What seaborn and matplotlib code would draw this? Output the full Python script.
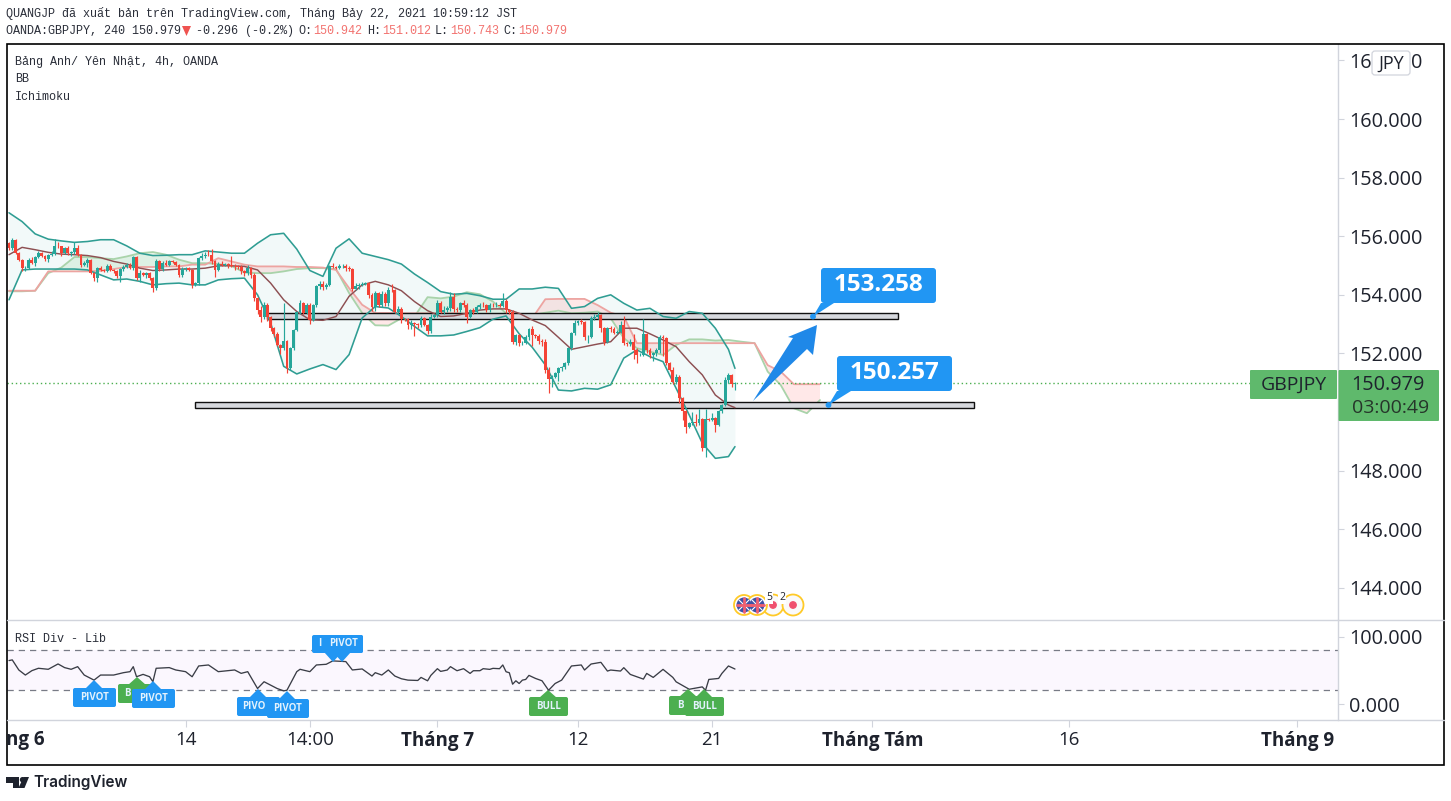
"""GBPJPY 4h TradingView snapshot redrawn with seaborn / matplotlib."""
import matplotlib
matplotlib.use("Agg")
import matplotlib.pyplot as plt
from matplotlib.patches import FancyBboxPatch, Polygon, Circle, Rectangle
import numpy as np
import pandas as pd
import seaborn as sns

# candle closes, one per 4h bar (opens are the previous close)
closes = [
    155.59, 155.88, 155.42, 155.20, 154.91, 154.93, 155.20, 155.10, 155.29, 155.42,
    155.31, 155.22, 155.37, 155.40, 155.67, 155.65, 155.42, 155.59, 155.42, 155.45,
    155.59, 155.37, 155.03, 155.08, 155.20, 154.76, 154.57, 154.91, 154.85, 154.83,
    154.99, 154.85, 154.80, 154.65, 154.88, 154.95, 155.03, 154.91, 155.29, 154.57,
    154.74, 154.68, 154.74, 154.57, 154.23, 155.14, 154.88, 155.10, 155.03, 155.14,
    155.12, 155.03, 154.68, 154.88, 154.91, 154.85, 154.34, 154.40, 155.25, 155.31,
    155.37, 155.35, 155.14, 154.85, 155.05, 155.03, 155.05, 155.03, 154.99, 154.97,
    154.95, 154.80, 154.74, 154.91, 154.68, 153.89, 153.49, 153.26, 153.66, 153.26,
    152.87, 152.67, 152.30, 152.18, 152.41, 151.50, 152.18, 152.81, 153.40, 153.72,
    153.38, 153.66, 153.15, 153.66, 154.29, 154.38, 154.26, 154.34, 154.97, 154.95,
    154.93, 154.97, 154.99, 154.91, 154.88, 154.20, 154.31, 154.34, 154.38, 154.40,
    154.00, 153.60, 154.06, 153.66, 154.04, 153.72, 154.17, 154.15, 153.43, 153.51,
    153.17, 153.16, 152.97, 153.03, 153.00, 152.97, 153.20, 152.97, 152.78, 153.26,
    153.31, 153.71, 153.43, 153.48, 153.54, 153.94, 153.51, 153.48, 153.71, 153.66,
    153.26, 153.48, 153.43, 153.60, 153.66, 153.64, 153.48, 153.66, 153.64, 153.66,
    153.62, 153.80, 153.48, 153.43, 152.40, 152.63, 152.35, 152.37, 152.57, 152.82,
    152.63, 152.61, 152.43, 152.40, 151.44, 151.12, 151.21, 151.32, 151.49, 151.53,
    151.66, 152.18, 152.69, 153.03, 153.09, 153.07, 152.55, 152.57, 153.20, 153.23,
    153.31, 152.86, 152.40, 152.86, 152.84, 152.71, 152.74, 152.97, 152.35, 152.32,
    152.40, 152.12, 151.95, 151.96, 152.66, 152.12, 151.95, 152.00, 152.12, 152.57,
    152.52, 151.66, 151.44, 151.04, 151.21, 150.47, 150.02, 149.50, 149.62, 149.65,
    149.62, 149.75, 148.76, 149.75, 149.73, 149.78, 149.56, 150.02, 150.24, 151.10,
    151.27, 150.94, 150.98,
]
first_open = 155.76
wick_up = [
    .04, .05, .03, .03, .03, .06, .04, .08, .03, .06,
    .04, .04, .04, .08, .25, .12, .03, .05, .06, .05,
    .22, .12, .04, .06, .04, .03, .03, .05, .08, .03,
    .05, .06, .04, .05, .04, .06, .05, .05, .05, .03,
    .10, .05, .04, .03, .03, .08, .06, .05, .08, .05,
    .04, .04, .03, .06, .05, .04, .03, .05, .05, .12,
    .08, .15, .20, .05, .06, .12, .05, .05, .30, .07,
    .05, .06, .04, .10, .05, .05, .03, .12, .10, .05,
    .03, .04, .05, .03, 1.30, .05, .05, .04, .05, .10,
    .04, .05, .05, .04, .05, .10, .08, .07, .05, .12,
    .05, .08, .05, .05, .08, .05, .10, .07, .05, .04,
    .05, .05, .08, .05, .08, .05, .10, .20, .05, .12,
    .08, .05, .05, .10, .05, .05, .08, .06, .05, .10,
    .05, .12, .08, .15, .08, .15, .12, .06, .05, .10,
    .05, .05, .08, .05, .05, .10, .05, .05, .05, .08,
    .05, .25, .05, .05, .05, .05, .05, .04, .05, .05,
    .10, .05, .05, .05, .10, .08, .05, .05, .06, .05,
    .05, .05, .05, .10, .05, .08, .05, .05, .08, .10,
    .10, .05, .05, .05, .06, .06, .06, .12, .30, .05,
    .08, .25, .06, .05, .50, .05, .05, .05, .05, .05,
    .05, .05, .05, .08, .10, .05, .05, .05, .05, .35,
    .30, .35, .05, .35, .05, .20, .05, .05, .05, .08,
    .06, .02, .03,
]
wick_dn = [
    .05, .05, .03, .04, .08, .08, .05, .05, .10, .04,
    .03, .05, .10, .04, .05, .05, .08, .03, .05, .10,
    .05, .06, .08, .05, .12, .05, .10, .12, .04, .05,
    .04, .05, .05, .08, .22, .07, .05, .04, .06, .06,
    .12, .05, .10, .07, .12, .05, .06, .05, .04, .05,
    .04, .06, .08, .07, .05, .05, .12, .05, .05, .06,
    .05, .04, .10, .25, .05, .05, .05, .10, .05, .12,
    .08, .08, .10, .06, .10, .10, .15, .20, .10, .15,
    .12, .12, .05, .20, .05, .17, .08, .05, .05, .05,
    .05, .05, .15, .05, .08, .08, .08, .05, .05, .05,
    .05, .05, .05, .08, .05, .08, .04, .10, .05, .05,
    .10, .15, .15, .06, .06, .10, .10, .05, .05, .10,
    .12, .05, .15, .15, .40, .10, .08, .05, .10, .08,
    .05, .05, .05, .08, .05, .10, .08, .06, .05, .06,
    .22, .05, .08, .05, .08, .05, .08, .05, .05, .05,
    .05, .05, .10, .10, .08, .12, .08, .05, .05, .12,
    .38, .10, .10, .15, .12, .48, .25, .05, .25, .10,
    .05, .05, .05, .06, .05, .05, .10, .18, .06, .05,
    .05, .12, .10, .05, .10, .05, .05, .05, .05, .06,
    .05, .30, .28, .05, .05, .10, .10, .20, .10, .10,
    .60, .05, .05, .08, .08, .15, .30, .20, .05, .05,
    .10, .05, .10, .30, .05, .05, .25, .05, .05, .05,
    .10, .10, .20,
]

# Bollinger bands, read every 4 bars
bb_bars = list(range(0, 221, 4)) + [222]
bb_upper = [
    156.80, 156.50, 156.08, 155.90, 155.84, 155.79, 155.82, 155.88, 155.88, 155.67,
    155.42, 155.34, 155.35, 155.37, 155.37, 155.50, 155.46, 155.42, 155.42, 155.76,
    156.05, 156.10, 155.56, 154.83, 154.63, 155.59, 155.91, 155.42, 155.31, 155.20,
    155.05, 154.71, 154.42, 154.11, 154.02, 154.05, 153.97, 153.85, 153.85, 154.20,
    154.20, 154.26, 154.22, 153.54, 153.60, 153.88, 154.00, 153.71, 153.48, 153.54,
    153.26, 153.20, 153.43, 153.37, 152.86, 152.14, 151.49,
]
bb_lower = [
    153.83, 154.85, 154.88, 154.88, 154.88, 154.88, 154.85, 154.68, 154.51, 154.54,
    154.46, 154.34, 154.38, 154.40, 154.34, 154.34, 154.51, 154.55, 154.57, 154.00,
    153.04, 151.56, 151.30, 151.47, 151.62, 151.45, 151.96, 153.21, 153.60, 153.55,
    153.26, 152.92, 152.60, 152.60, 152.63, 152.75, 152.88, 153.17, 153.28, 152.67,
    152.21, 151.61, 150.75, 150.72, 150.81, 150.78, 150.93, 151.84, 152.12, 151.89,
    151.72, 150.81, 149.90, 148.94, 148.42, 148.48, 148.82,
]
bb_basis = [
    155.37, 155.62, 155.54, 155.45, 155.39, 155.37, 155.34, 155.27, 155.14, 155.05,
    154.91, 154.83, 154.85, 154.88, 154.88, 154.91, 154.99, 154.99, 154.97, 154.85,
    154.40, 153.83, 153.43, 153.15, 153.13, 153.26, 153.95, 154.34, 154.46, 154.34,
    154.14, 153.77, 153.46, 153.26, 153.28, 153.37, 153.48, 153.52, 153.52, 153.37,
    153.14, 152.95, 152.55, 152.14, 152.23, 152.32, 152.40, 152.86, 152.86, 152.67,
    152.46, 152.23, 151.72, 151.27, 150.58, 150.24, 150.15,
]

# Ichimoku cloud, runs past the last candle
cloud_bars = list(range(0, 245, 4)) + [248]
span_a = [
    154.12, 154.12, 154.14, 154.74, 154.93, 155.29, 155.29, 155.25, 155.22, 155.31,
    155.42, 155.46, 155.37, 155.20, 155.08, 155.08, 155.05, 154.99, 154.76, 154.74,
    154.74, 154.80, 154.88, 154.91, 154.91, 154.88, 154.06, 153.38, 152.96, 152.95,
    153.20, 153.26, 153.92, 153.88, 153.94, 154.09, 154.02, 153.77, 153.37, 153.31,
    153.31, 153.39, 153.46, 153.37, 153.39, 153.43, 153.20, 152.52, 152.18, 152.06,
    151.95, 152.29, 152.48, 152.48, 152.44, 152.46, 152.40, 152.35, 151.38, 150.92,
    150.13, 149.96, 150.41,
]
span_b = [
    154.14, 154.14, 154.14, 154.80, 154.80, 154.80, 154.80, 154.82, 154.88, 154.95,
    154.95, 154.95, 154.97, 154.97, 155.03, 155.03, 155.25, 155.14, 155.03, 154.97,
    154.97, 154.97, 154.95, 154.95, 154.93, 154.85, 154.23, 153.66, 153.38, 153.38,
    153.37, 153.37, 153.37, 153.37, 153.37, 153.35, 153.31, 153.23, 153.20, 153.20,
    153.20, 153.85, 153.86, 153.86, 153.86, 153.65, 153.39, 153.26, 152.35, 152.35,
    152.35, 152.35, 152.35, 152.35, 152.35, 152.35, 152.35, 152.35, 151.60, 151.38,
    150.95, 150.95, 150.95,
]

# RSI pane
rsi_bars = [
    0, 1, 3, 5, 7, 9, 12, 15, 17, 19,
    21, 23, 26, 28, 32, 35, 37, 38, 39, 41,
    43, 44, 45, 49, 51, 54, 56, 58, 61, 64,
    69, 71, 73, 76, 78, 82, 84, 85, 88, 89,
    92, 94, 97, 99, 103, 105, 108, 111, 112, 114,
    116, 118, 120, 122, 125, 126, 128, 129, 131, 132,
    134, 135, 137, 139, 141, 142, 144, 145, 147, 148,
    150, 151, 152, 153, 154, 155, 156, 157, 158, 159,
    161, 163, 165, 167, 169, 172, 175, 176, 178, 181,
    183, 184, 187, 188, 190, 194, 195, 197, 200, 203,
    204, 208, 212, 213, 214, 217, 218, 220, 222,
]
rsi_values = [
    64.7, 65.7, 50.8, 43.3, 49.8, 53.3, 51.8, 59.7, 54.3, 51.8,
    55.7, 43.3, 35.8, 43.3, 43.3, 46.8, 48.3, 55.7, 40.8, 44.3,
    40.8, 33.4, 53.3, 54.3, 50.8, 48.3, 40.8, 56.7, 58.2, 48.3,
    50.8, 45.8, 48.3, 23.4, 33.4, 23.4, 19.9, 20.9, 48.3, 51.8,
    48.3, 58.2, 59.2, 64.2, 63.2, 50.8, 52.3, 41.8, 46.8, 43.3,
    50.8, 41.8, 37.8, 35.8, 35.3, 39.8, 34.8, 42.8, 52.7, 48.7,
    50.7, 55.7, 49.7, 52.7, 45.7, 49.7, 49.7, 52.7, 51.7, 53.2,
    52.7, 58.2, 48.2, 46.7, 29.8, 34.8, 30.8, 35.8, 36.8, 42.8,
    38.3, 34.8, 20.8, 30.8, 35.8, 56.7, 58.2, 50.7, 59.6, 62.1,
    49.2, 50.7, 49.2, 54.2, 44.2, 37.3, 45.7, 39.8, 51.7, 39.8,
    33.3, 22.3, 25.8, 20.8, 36.8, 38.3, 45.7, 56.7, 52.2,
]

price_ticks = [144, 146, 148, 150, 152, 154, 156, 158, 160, 162]
price_tick_labels = ["144.000", "146.000", "148.000", "", "152.000", "154.000",
                     "156.000", "158.000", "160.000", "162.000"]
rsi_ticks = [0, 100]
rsi_tick_labels = ["0.000", "100.000"]
time_ticks = [54, 92, 131, 174, 215, 264, 324, 394]
time_labels = ["14", "14:00", "Tháng 7", "12", "21", "Tháng Tám", "16", "Tháng 9"]
last_price = 150.979
zone_high = (153.16, 153.37, 79, 272)
zone_low = (150.15, 150.35, 57, 295)

W, H = 1451, 801
TEAL, RED = "#26a69a", "#f44336"
BLUE, GREEN = "#2196f3", "#4caf50"
INK = "#1e222d"
AXIS_GREY = "#d1d4dc"
MONO = "Liberation Mono"
SANS = "Open Sans"

sns.set_theme(style="white")
plt.rcParams["font.family"] = [SANS, "DejaVu Sans"]

fig = plt.figure(figsize=(W / 100, H / 100), dpi=100, facecolor="white")


def pane(left, top, right, bottom):
    return fig.add_axes([left / W, 1 - bottom / H, (right - left) / W, (bottom - top) / H])


ax = pane(7, 44, 1338, 619.5)
ax_rsi = pane(7, 619.5, 1338, 719.5)
for a in (ax, ax_rsi):
    a.set_xlim(-0.61, 406.4)
    a.set_facecolor("white")
    a.yaxis.tick_right()
    for side in ("top", "left", "bottom"):
        a.spines[side].set_visible(False)
    a.spines["right"].set_color(AXIS_GREY)
    a.spines["right"].set_linewidth(1.0)
ax.set_ylim(142.92, 162.56)
ax_rsi.set_ylim(-22.4, 125.4)

# candles
bars = np.arange(len(closes))
candles = pd.DataFrame({"bar": bars, "close": closes})
candles["open"] = candles["close"].shift(1).fillna(first_open)
candles["top"] = candles[["open", "close"]].max(axis=1)
candles["bot"] = candles[["open", "close"]].min(axis=1)
candles["high"] = candles["top"] + np.array(wick_up)
candles["low"] = candles["bot"] - np.array(wick_dn)
colors = np.where(candles["close"] >= candles["open"], TEAL, RED)

# bollinger
bb = pd.DataFrame({"bar": bb_bars, "upper": bb_upper, "lower": bb_lower, "basis": bb_basis})
ax.fill_between(bb["bar"], bb["lower"], bb["upper"], color=TEAL, alpha=0.06, lw=0, zorder=1)
sns.lineplot(data=bb, x="bar", y="upper", ax=ax, color="#2f9d93", lw=1.15, zorder=2.2, errorbar=None)
sns.lineplot(data=bb, x="bar", y="lower", ax=ax, color="#2f9d93", lw=1.15, zorder=2.2, errorbar=None)
sns.lineplot(data=bb, x="bar", y="basis", ax=ax, color="#8d4f52", lw=1.05, zorder=2.6, errorbar=None)

# ichimoku cloud
cloud = pd.DataFrame({"bar": cloud_bars, "a": span_a, "b": span_b})
a_arr, b_arr = cloud["a"].to_numpy(), cloud["b"].to_numpy()
ax.fill_between(cloud["bar"], a_arr, b_arr, where=a_arr >= b_arr, interpolate=True,
                color=GREEN, alpha=0.12, lw=0, zorder=1.1)
ax.fill_between(cloud["bar"], a_arr, b_arr, where=a_arr <= b_arr, interpolate=True,
                color="#ff5252", alpha=0.13, lw=0, zorder=1.1)
sns.lineplot(data=cloud, x="bar", y="a", ax=ax, color="#a9d3aa", lw=1.3, zorder=1.3, errorbar=None)
sns.lineplot(data=cloud, x="bar", y="b", ax=ax, color="#eda4a1", lw=1.3, zorder=1.3, errorbar=None)

# drawn zones
for low, high, x0, x1 in (zone_high, zone_low):
    ax.add_patch(Rectangle((x0, low), x1 - x0, high - low, facecolor="#d6d8dd", edgecolor="#101010",
                           lw=1.0, zorder=1.9))

ax.vlines(candles["bar"], candles["low"], candles["high"], colors=colors, lw=0.85, zorder=3)
ax.bar(candles["bar"], candles["top"] - candles["bot"], bottom=candles["bot"], width=0.88,
       color=colors, lw=0, zorder=3.1)

ax.plot([-0.61, 381], [last_price, last_price], color=GREEN, lw=1.0, ls=(0, (1, 2)), zorder=2.8)
ax.set_xlabel("")
ax.set_ylabel("")

ax.set_xticks([])
ax.set_yticks(price_ticks, price_tick_labels)
ax.tick_params(axis="y", length=4, width=0.8, color=AXIS_GREY, labelsize=14.3, labelcolor=INK, pad=4, right=True)

# rsi pane
rsi = pd.DataFrame({"bar": rsi_bars, "rsi": rsi_values})
ax_rsi.axhspan(20.5, 80.5, color="#fbf7fe", lw=0, zorder=1)
for level in (20.5, 80.5):
    ax_rsi.axhline(level, color="#787b86", lw=0.9, ls=(0, (5, 4)), zorder=1.5)
sns.lineplot(data=rsi, x="bar", y="rsi", ax=ax_rsi, color="#3a3d46", lw=0.95, zorder=3, errorbar=None)
ax_rsi.set_xlabel("")
ax_rsi.set_ylabel("")
ax_rsi.set_yticks(rsi_ticks, rsi_tick_labels)
ax_rsi.tick_params(axis="y", length=4, width=0.8, color=AXIS_GREY, labelsize=14.3, labelcolor=INK, pad=4, right=True)
ax_rsi.set_xticks(time_ticks, time_labels)
ax_rsi.tick_params(axis="x", length=5, width=0.8, color=AXIS_GREY, labelsize=13.5, labelcolor=INK, pad=3, bottom=True)
for lab in ax_rsi.get_xticklabels():
    if lab.get_text().startswith("Tháng"):
        lab.set_fontweight("bold")

# everything else sits on a pixel-sized overlay
ov = fig.add_axes([0, 0, 1, 1], zorder=10)
ov.set_xlim(0, W)
ov.set_ylim(H, 0)
ov.axis("off")
ov.patch.set_alpha(0)

ov.add_patch(Rectangle((6.5, 43.5), 1437.5, 721.5, fill=False, edgecolor="black", lw=1.2))
ov.plot([7, 1444], [619.5, 619.5], color=AXIS_GREY, lw=1)
ov.plot([7, 1444], [719.5, 719.5], color=AXIS_GREY, lw=1)
ov.text(6, 740, "ng 6", fontsize=13.5, color=INK, va="center", ha="left", fontweight="bold")


# header text
def mono(x, y, s, color="#2a2e39", size=8.45):
    ov.text(x, y, s, family=MONO, fontsize=size, color=color, va="center", ha="left")


mono(6, 14, "QUANGJP đã xuất bản trên TradingView.com, Tháng Bảy 22, 2021 10:59:12 JST")
mono(6, 31, "OANDA:GBPJPY, 240 150.979")
ov.add_patch(Polygon([(182, 26), (191, 26), (186.5, 36)], color="#ef5350", lw=0))
mono(196, 31, "-0.296 (-0.2%)")
for x_lab, s_lab, x_val, s_val in [(298, "O:", 313, "150.942"), (367, "H:", 382, "151.012"),
                                   (435, "L:", 450, "150.743"), (503, "C:", 518, "150.979")]:
    mono(x_lab, 31, s_lab)
    mono(x_val, 31, s_val, color="#f2726f")
mono(15, 62.5, "Bảng Anh/ Yên Nhật, 4h, OANDA")
mono(15, 79.5, "BB")
mono(15, 96.5, "Ichimoku")
mono(15, 638.5, "RSI Div - Lib")

# JPY badge over the top price label
ov.add_patch(FancyBboxPatch((1372, 51), 38, 24, boxstyle="round,pad=0,rounding_size=3",
                            facecolor="white", edgecolor=AXIS_GREY, lw=0.9))
ov.text(1391, 63.5, "JPY", fontsize=13, color=INK, ha="center", va="center")

# last price tags
ov.add_patch(FancyBboxPatch((1250, 370), 87, 29, boxstyle="round,pad=0,rounding_size=1",
                            facecolor="#5fb96c", edgecolor="none"))
ov.add_patch(FancyBboxPatch((1338.5, 370), 100.5, 51, boxstyle="round,pad=0,rounding_size=1",
                            facecolor="#5fb96c", edgecolor="none"))
ov.text(1293.5, 385, "GBPJPY", fontsize=14, color=INK, ha="center", va="center")
ov.text(1351, 385, "150.979", fontsize=14.3, color=INK, ha="left", va="center")
ov.text(1352, 408, "03:00:49", fontsize=14, color="#26352a", ha="left", va="center")


# callouts and arrow
def callout(x, y, w, h, tail, text):
    ov.add_patch(Polygon(tail, color=BLUE, lw=0, zorder=5))
    ov.add_patch(FancyBboxPatch((x, y), w, h, boxstyle="round,pad=0,rounding_size=3",
                                facecolor=BLUE, edgecolor="none", zorder=5))
    ov.text(x + w / 2, y + h / 2 - 0.5, text, fontsize=17.5, fontweight="bold", color="white",
            ha="center", va="center", zorder=6)
    ov.add_patch(Circle(tail[-1], 2.2, color=BLUE, zorder=6))


ov.add_patch(Polygon([(753, 401), (793, 338), (788, 337), (817, 325), (813, 355), (807, 349)],
                     color="#1f88e8", lw=0, zorder=4))
callout(821, 268, 115, 35, [(821, 303), (834, 303), (813, 316.5)], "153.258")
callout(837, 356, 115, 35, [(837, 391), (851, 391), (828.5, 405)], "150.257")


# pivot / bull tags in the rsi pane
def tag(x, y, w, h, tip, text, color, text_x=None):
    ov.add_patch(Polygon([(tip[0] - 9, y + 1), (tip[0] + 9, y + 1), tip] if tip[1] < y else
                         [(tip[0] - 9, y + h - 1), (tip[0] + 9, y + h - 1), tip], color=color, lw=0))
    ov.add_patch(FancyBboxPatch((x, y), w, h, boxstyle="round,pad=0,rounding_size=2",
                                facecolor=color, edgecolor="none"))
    cx = x + w / 2 if text_x is None else text_x
    ov.text(cx, y + h / 2, text, fontsize=7, fontweight="bold", color="#e3f2fd",
            ha="center", va="center")


tag(73, 688, 43, 19, (94, 680), "PIVOT", BLUE)
tag(118, 684, 34, 19, (137, 677), "B", GREEN, text_x=127)
tag(132, 689, 43, 19, (153, 681), "PIVOT", BLUE)
tag(237, 697, 43, 19, (258, 689), "PIVO", BLUE, text_x=254)
tag(267, 699, 42, 19, (287, 691), "PIVOT", BLUE)
tag(312, 635, 51, 18, (333, 662), "I", BLUE, text_x=320)
tag(325, 635, 38, 18, (342, 662), "PIVOT", BLUE)
tag(529, 697, 39, 19, (548, 690), "BULL", GREEN)
tag(669, 696, 30, 19, (688, 689), "B", GREEN, text_x=680)
tag(685, 697, 39, 19, (704, 689), "BULL", GREEN)

# calendar markers
for cx in (744, 757):
    ov.add_patch(Circle((cx, 605), 10, facecolor="white", edgecolor="#ffca28", lw=1.3, zorder=3))
    ov.add_patch(Circle((cx, 605), 7.5, facecolor="#3f51a5", edgecolor="none", zorder=3.1))
    ov.plot([cx - 7, cx + 7], [605, 605], color="#f06070", lw=2, zorder=3.2)
    ov.plot([cx, cx], [598, 612], color="#f06070", lw=2, zorder=3.2)
    ov.plot([cx - 5, cx + 5], [600, 610], color="white", lw=0.8, zorder=3.15)
    ov.plot([cx - 5, cx + 5], [610, 600], color="white", lw=0.8, zorder=3.15)
for cx in (773, 793):
    ov.add_patch(Circle((cx, 605), 10.5, facecolor="#fafafa", edgecolor="#ffca28", lw=1.3,
                        zorder=2.9 if cx == 773 else 3))
    ov.add_patch(Circle((cx, 605), 3.2, color="#f0506e", zorder=3.3))
for cx, s in ((769, "5"), (782, "2")):
    ov.text(cx, 597.5, s, fontsize=7.5, color=INK, ha="center", va="center", zorder=4,
            bbox=dict(facecolor="white", edgecolor="none", pad=0.6))

# TradingView logo
ov.add_patch(Polygon([(6, 777), (19, 777), (19, 788), (13, 788), (13, 783), (6, 783)], color=INK, lw=0))
ov.add_patch(Circle((22.5, 779.7), 2.7, color=INK, lw=0))
ov.add_patch(Polygon([(29, 777), (24.5, 788), (18.5, 788), (23.5, 777)], color=INK, lw=0))
ov.text(33, 782.5, "TradingView", family="Inter", fontsize=11, fontweight="semibold", color=INK,
        ha="left", va="center")

fig.savefig("out.png", dpi=100, facecolor="white")
